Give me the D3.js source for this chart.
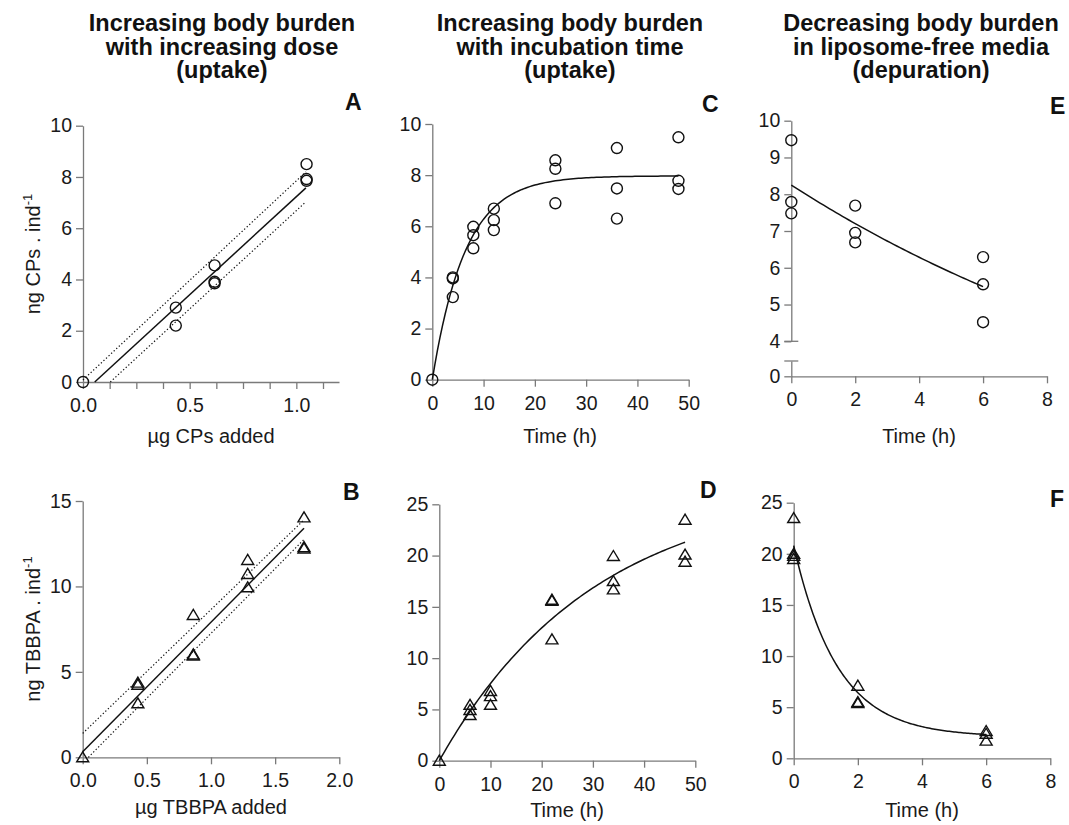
<!DOCTYPE html>
<html>
<head>
<meta charset="utf-8">
<script src="https://cdn.jsdelivr.net/npm/d3@7"></script>
<style>
body{margin:0;background:#fff;}
text{font-family:Arial,"Liberation Sans",sans-serif;}
</style>
</head>
<body>
<script>
// ---- data ----
// A: CPs, dose series (circles)
var aDose=[0,0.435,0.435,0.617,0.617,0.617,1.048,1.048,1.048];
var aCPs=[0,2.9,2.2,4.55,3.91,3.85,8.5,7.92,7.85];
var aFit={slope:7.65,intercept:-0.42,from:0.055,to:1.045};
var aUpper=[[0,0.08],[1.045,8.2]];
var aLower=[[0.128,0],[1.045,7.03]];

// C: CPs, uptake time course
var cTime=[0,4,4,4,8,8,8,12,12,12,24,24,24,36,36,36,48,48,48];
var cCPs=[0,4.0,3.96,3.23,5.98,5.65,5.14,6.69,6.24,5.85,8.58,8.25,6.9,9.06,7.48,6.3,9.48,7.78,7.46];
var cFit={plateau:7.97,k:0.155,to:48};

// E: CPs, depuration
var eTime=[0,0,0,2,2,2,6,6,6];
var eCPs=[9.47,7.79,7.48,7.69,6.95,6.69,6.29,5.55,4.52];
var eFit={y0:8.25,k:0.068,to:6};

// B: TBBPA, dose series (triangles)
var bDose=[0,0.43,0.43,0.43,0.862,0.862,0.862,1.286,1.286,1.286,1.725,1.725,1.725];
var bTBBPA=[0,4.37,4.25,3.16,8.33,6.02,5.96,11.55,10.73,9.95,14.04,12.3,12.22];
var bFit={slope:7.58,intercept:0.33,from:0,to:1.725};
var bUpper=[[0,1.4],[1.725,13.9]];
var bLower=[[0.044,0],[1.725,12.75]];

// D: TBBPA, uptake time course
var dTime=[0,6,6,6,10,10,10,22,22,22,34,34,34,48,48,48];
var dTBBPA=[0,5.45,4.95,4.45,6.8,6.3,5.45,15.7,15.6,11.83,19.96,17.52,16.7,23.5,20.1,19.4];
var dFit={plateau:26.8,k:0.033,to:48};

// F: TBBPA, depuration
var fTime=[0,0,0,0,2,2,2,6,6,6];
var fTBBPA=[23.5,20.0,19.8,19.5,7.1,5.5,5.4,2.67,2.4,1.73];
var fFit={y0:20.8,plateau:2.1,k:0.733,to:6};

var titles=[
  ["Increasing body burden","with increasing dose","(uptake)"],
  ["Increasing body burden","with incubation time","(uptake)"],
  ["Decreasing body burden","in liposome-free media","(depuration)"]
];

var width=1069;
var height=825;
var svg=d3.select("body")
    .append("svg")
    .attr("width",width)
    .attr("height",height);

var axisColor="#7a7a7a";
var labelColor="#1a1a1a";

function styleAxis(g){
    g.selectAll(".domain").attr("stroke",axisColor).attr("stroke-width",1.3);
    g.selectAll(".tick line").attr("stroke",axisColor).attr("stroke-width",1.3);
    g.selectAll(".tick text").attr("fill",labelColor).attr("font-size","19.5px")
        .attr("font-family","Arial, 'Liberation Sans', sans-serif");
}

function xAxis(x,y0,ticks,fmt){
    var g=svg.append("g")
        .attr("transform","translate(0,"+y0+")")
        .call(d3.axisBottom(x).tickValues(ticks).tickSize(7).tickPadding(9).tickSizeOuter(0).tickFormat(fmt));
    styleAxis(g);
}

function yAxis(y,x0,ticks){
    var g=svg.append("g")
        .attr("transform","translate("+x0+",0)")
        .call(d3.axisLeft(y).tickValues(ticks).tickSize(7).tickPadding(4).tickSizeOuter(0).tickFormat(d3.format("d")));
    styleAxis(g);
}

function circles(xs,ys,x,y){
    svg.append("g").selectAll("circle")
        .data(xs)
        .enter()
        .append("circle")
        .attr("cx",function(d){return x(d);})
        .attr("cy",function(d,i){return y(ys[i]);})
        .attr("r",5.5)
        .attr("fill","none")
        .attr("stroke","#111")
        .attr("stroke-width",1.4);
}

function triangles(xs,ys,x,y){
    svg.append("g").selectAll("path")
        .data(xs)
        .enter()
        .append("path")
        .attr("d","M0,-5.5L6,4.5L-6,4.5Z")
        .attr("transform",function(d,i){return "translate("+x(d)+","+y(ys[i])+")";})
        .attr("fill","none")
        .attr("stroke","#111")
        .attr("stroke-width",1.4)
        .attr("stroke-linejoin","miter");
}

function curve(pts,x,y,dash){
    var line=d3.line().x(function(d){return x(d[0]);}).y(function(d){return y(d[1]);});
    var p=svg.append("path")
        .attr("d",line(pts))
        .attr("fill","none")
        .attr("stroke","#111")
        .attr("stroke-width",dash?1.2:1.5);
    if(dash){p.attr("stroke-dasharray","1.3,2.2");}
}

function xTitle(txt,cx,y0){
    svg.append("text")
        .attr("x",cx).attr("y",y0)
        .attr("text-anchor","middle")
        .attr("font-size","20px")
        .attr("fill",labelColor)
        .text(txt);
}

function yTitle(txt,cx,cy){
    var t=svg.append("text")
        .attr("transform","translate("+cx+","+cy+") rotate(-90)")
        .attr("text-anchor","middle")
        .attr("dy","0.35em")
        .attr("font-size","20px")
        .attr("fill",labelColor);
    t.append("tspan").text(txt);
    t.append("tspan").attr("dy","-8").attr("font-size","13px").text("-1");
}

function letter(txt,x0,y0){
    svg.append("text")
        .attr("x",x0).attr("y",y0)
        .attr("font-size","23px")
        .attr("font-weight","bold")
        .attr("fill","#111")
        .text(txt);
}

// ---- column titles ----
var titleX=[222,570,921];
titles.forEach(function(lines,c){
    lines.forEach(function(s,j){
        svg.append("text")
            .attr("x",titleX[c])
            .attr("y",31+j*23.5)
            .attr("text-anchor","middle")
            .attr("font-size","23.5px")
            .attr("font-weight","bold")
            .attr("fill","#111")
            .text(s);
    });
});

var fmt1=d3.format(".1f");

// ---- Panel A ----
var xA=d3.scaleLinear().domain([0,1.2]).range([83,339]);
var yA=d3.scaleLinear().domain([0,10]).range([382,125.7]);
xAxis(xA,382,d3.range(0,1.19,0.125),function(d){
    return Math.abs(d*2-Math.round(d*2))<1e-9?fmt1(d):"";
});
yAxis(yA,83,[0,2,4,6,8,10]);
curve(aUpper,xA,yA,true);
curve(aLower,xA,yA,true);
curve([[aFit.from,aFit.slope*aFit.from+aFit.intercept],[aFit.to,aFit.slope*aFit.to+aFit.intercept]],xA,yA,false);
circles(aDose,aCPs,xA,yA);
xTitle("\u00b5g CPs added",211,443);
yTitle("ng CPs . ind",33,254);
letter("A",345,110);

// ---- Panel C ----
var xC=d3.scaleLinear().domain([0,50]).range([432.3,688.7]);
var yC=d3.scaleLinear().domain([0,10]).range([379.7,124]);
xAxis(xC,379.7,[0,10,20,30,40,50],d3.format("d"));
yAxis(yC,432.3,[0,2,4,6,8,10]);
curve(d3.range(0,cFit.to+0.01,0.5).map(function(t){
    return [t,cFit.plateau*(1-Math.exp(-cFit.k*t))];
}),xC,yC,false);
circles(cTime,cCPs,xC,yC);
xTitle("Time (h)",560,443);
letter("C",702,112);

// ---- Panel E (broken y axis) ----
var xE=d3.scaleLinear().domain([0,8]).range([791.3,1047]);
var yE=d3.scaleLinear().domain([4,10]).range([341.3,120.7]);
var yE0=d3.scaleLinear().domain([0,0.42]).range([376.3,361]);
xAxis(xE,376.3,[0,2,4,6,8],d3.format("d"));
yAxis(yE,791.3,[4,5,6,7,8,9,10]);
var gE0=svg.append("g")
    .attr("transform","translate(791.3,0)")
    .call(d3.axisLeft(yE0).tickValues([0]).tickSize(7).tickPadding(4).tickSizeOuter(0).tickFormat(d3.format("d")));
styleAxis(gE0);
[yE(4),yE0(0.42)].forEach(function(yy){
    svg.append("line")
        .attr("x1",784.3).attr("x2",798.3)
        .attr("y1",yy).attr("y2",yy)
        .attr("stroke",axisColor).attr("stroke-width",1.3);
});
curve(d3.range(0,eFit.to+0.01,0.1).map(function(t){
    return [t,eFit.y0*Math.exp(-eFit.k*t)];
}),xE,yE,false);
circles(eTime,eCPs,xE,yE);
xTitle("Time (h)",919,443);
letter("E",1050,114);

// ---- Panel B ----
var xB=d3.scaleLinear().domain([0,2]).range([82.7,339.3]);
var yB=d3.scaleLinear().domain([0,15]).range([757.3,501]);
xAxis(xB,757.3,[0,0.5,1,1.5,2],fmt1);
yAxis(yB,82.7,[0,5,10,15]);
curve(bUpper,xB,yB,true);
curve(bLower,xB,yB,true);
curve([[bFit.from,bFit.slope*bFit.from+bFit.intercept],[bFit.to,bFit.slope*bFit.to+bFit.intercept]],xB,yB,false);
triangles(bDose,bTBBPA,xB,yB);
xTitle("\u00b5g TBBPA added",211,814);
yTitle("ng TBBPA . ind",33,629);
letter("B",343,500);

// ---- Panel D ----
var xD=d3.scaleLinear().domain([0,50]).range([439.3,695.3]);
var yD=d3.scaleLinear().domain([0,25]).range([760.7,504.3]);
xAxis(xD,760.7,[0,10,20,30,40,50],d3.format("d"));
yAxis(yD,439.3,[0,5,10,15,20,25]);
curve(d3.range(0,dFit.to+0.01,0.5).map(function(t){
    return [t,dFit.plateau*(1-Math.exp(-dFit.k*t))];
}),xD,yD,false);
triangles(dTime,dTBBPA,xD,yD);
xTitle("Time (h)",567,817);
letter("D",700,498);

// ---- Panel F ----
var xF=d3.scaleLinear().domain([0,8]).range([793.7,1050.3]);
var yF=d3.scaleLinear().domain([0,25]).range([758.3,502.7]);
xAxis(xF,758.3,[0,2,4,6,8],d3.format("d"));
yAxis(yF,793.7,[0,5,10,15,20,25]);
curve(d3.range(0,fFit.to+0.01,0.05).map(function(t){
    return [t,(fFit.y0-fFit.plateau)*Math.exp(-fFit.k*t)+fFit.plateau];
}),xF,yF,false);
triangles(fTime,fTBBPA,xF,yF);
xTitle("Time (h)",922,817);
letter("F",1050,507);
</script>
</body>
</html>
